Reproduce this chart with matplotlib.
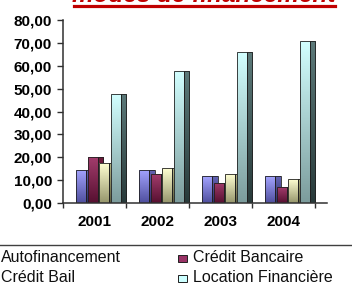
import matplotlib.pyplot as plt
import numpy as np
from matplotlib.colors import to_rgb
from matplotlib.lines import Line2D
from matplotlib.patches import Rectangle

years = ["2001", "2002", "2003", "2004"]
series = ["Autofinancement", "Crédit Bancaire", "Crédit Bail", "Location Financière"]
autofinancement = [14.6, 14.6, 11.8, 11.8]
credit_bancaire = [19.9, 12.6, 8.8, 6.8]
credit_bail = [17.3, 15.1, 12.6, 10.4]
location_financiere = [47.7, 57.8, 66.0, 70.7]
yticks = [0, 10, 20, 30, 40, 50, 60, 70, 80]
ytick_labels = ["0,00", "10,00", "20,00", "30,00", "40,00", "50,00", "60,00", "70,00", "80,00"]
title = "modes de financement"

values = [autofinancement, credit_bancaire, credit_bail, location_financiere]
# (front top, front bottom, side top, side bottom)
shades = [
    ("#a4a4ff", "#4f4f9e", "#6464b4", "#2e2e6a"),
    ("#a23c6c", "#561030", "#6c1a3a", "#360a1e"),
    ("#ffffd2", "#96966c", "#b4b484", "#5e5e3e"),
    ("#d2ffff", "#7c9c9c", "#5c7a7a", "#283a3a"),
]
legend_colors = ["#9999ff", "#993366", "#ffffcc", "#ccffff"]

plt.rcParams["font.family"] = ["Liberation Sans", "DejaVu Sans"]

W, H = 352, 286
fig = plt.figure(figsize=(W / 100, H / 100), dpi=100)
ax = fig.add_axes([63 / W, 1 - 203 / H, (327 - 63) / W, (203 - 20) / H])


def gradient(top, bottom, n=64):
    t = np.linspace(0, 1, n)[:, None]
    c0, c1 = np.array(to_rgb(top)), np.array(to_rgb(bottom))
    return (c0 * (1 - t) + c1 * t)[:, None, :]


def shaded(bars, top, bottom, z):
    for b in bars:
        x0, w, h = b.get_x(), b.get_width(), b.get_height()
        im = ax.imshow(gradient(top, bottom), extent=(x0, x0 + w, 0, h),
                       aspect="auto", origin="upper", zorder=z)
        im.set_clip_path(b)


x = np.arange(len(years))
front_w, side_w, step, start = 0.16, 0.088, 0.184, -0.294
for k, vals in enumerate(values):
    ft, fb, st, sb = shades[k]
    z = 2 + k
    left = x + start + k * step
    front = ax.bar(left, vals, width=front_w, align="edge", color="none",
                   edgecolor="#202020", linewidth=0.6, zorder=z + 0.2)
    side = ax.bar(left + front_w, vals, width=side_w, align="edge", color="none",
                  edgecolor="#202020", linewidth=0.6, zorder=z + 0.2)
    shaded(front, ft, fb, z)
    shaded(side, st, sb, z)

ax.set_xlim(-0.5, 3.69)
ax.set_ylim(0, 80)
for s in ["top", "right"]:
    ax.spines[s].set_visible(False)
for s in ["left", "bottom"]:
    ax.spines[s].set_color("#303030")
    ax.spines[s].set_linewidth(1.1)
    ax.spines[s].set_zorder(10)

ax.set_yticks(yticks)
ax.set_yticklabels(ytick_labels, fontsize=11, fontweight="bold")
ax.tick_params(axis="y", direction="out", length=4, width=1, color="#303030", pad=4)
ax.set_xticks(x)
ax.set_xticklabels(years, fontsize=11, fontweight="bold")
ax.set_xticks(np.arange(-0.5, 4, 1), minor=True)
ax.tick_params(axis="x", which="major", length=0, pad=9)
ax.tick_params(axis="x", which="minor", direction="out", length=3.5, width=1, color="#303030")

# title, mostly cropped above the picture as in the original
fig.text(204 / W, 1 - 2 / H, title, ha="center", va="baseline", fontsize=17.5,
         fontweight="bold", fontstyle="italic", color="#c00000")
fig.add_artist(Line2D([74 / W, 335 / W], [1 - 5.5 / H] * 2, color="#c00000", lw=2.3))

# legend (box cropped on the left)
fig.add_artist(Line2D([0, 1], [1 - 245 / H] * 2, color="#404040", lw=1))
rows_y = [258, 278]
cols = [(-14, 1), (178, 193)]
for i, name in enumerate(series):
    mx, tx = cols[i % 2]
    y = rows_y[i // 2]
    fig.add_artist(Rectangle((mx / W, 1 - (y + 3.5) / H), 8.5 / W, 7 / H,
                             facecolor=legend_colors[i], edgecolor="#202020", lw=0.7))
    fig.text(tx / W, 1 - y / H, name, ha="left", va="center", fontsize=11.5, color="#101010")

fig.savefig("out.png", dpi=100)
